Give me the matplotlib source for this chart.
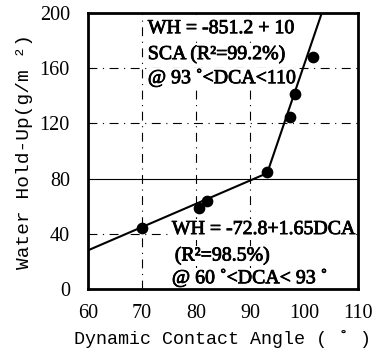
import matplotlib.pyplot as plt
import matplotlib.patheffects as pe

# measured points
dca = [70.0, 80.6, 82.0, 93.2, 97.5, 98.4, 101.6]
wh = [44, 59, 64, 85, 125, 141, 168]

# fitted lines
low_x = [60, 93.2]
low_y = [28, 84]
high_x = [93.2, 103.3]
high_y = [84, 200]

xticks = [60, 70, 80, 90, 100, 110]
yticks = [0, 40, 80, 120, 160, 200]

fig = plt.figure(figsize=(3.82, 3.64), dpi=100)
ax = fig.add_axes([0.230, 0.206, 0.707, 0.758])

ax.set_xlim(60, 110)
ax.set_ylim(0, 200)
ax.set_xticks(xticks)
ax.set_yticks(yticks)
ax.tick_params(length=0, labelsize=14.5)
ax.tick_params(axis='x', pad=11)
ax.tick_params(axis='y', pad=13)
for lab in ax.get_xticklabels() + ax.get_yticklabels():
    lab.set_fontfamily('Liberation Serif')

dash = (0, (8, 5, 1, 5))
for yy in [40, 120, 160]:
    ax.axhline(yy, color='k', lw=0.8, ls=dash, zorder=1)
ax.axhline(80, color='k', lw=0.8, zorder=1)
for xx in [70, 80, 90]:
    ax.axvline(xx, color='k', lw=0.8, ls=dash, zorder=1)

ax.plot(low_x, low_y, color='k', lw=1.5, zorder=3)
ax.plot(high_x, high_y, color='k', lw=1.5, zorder=3)
ax.scatter(dca, wh, s=55, c='k', zorder=5)

for sp in ax.spines.values():
    sp.set_linewidth(2)
    sp.set_zorder(6)

box = dict(facecolor='white', edgecolor='none', pad=0.5)
thick = [pe.withStroke(linewidth=0.6, foreground='k')]
serif = dict(family='Liberation Serif', fontsize=14.3, color='k',
             transform=ax.transAxes, va='top', bbox=box, zorder=2,
             path_effects=thick)
ax.text(0.222, 0.978, 'WH = -851.2 + 10', **serif)
ax.text(0.222, 0.885, 'SCA (R²=99.2%)', **serif)
ax.text(0.222, 0.8, '@ 93 ˚<DCA<110', **serif)
ax.text(0.311, 0.25, 'WH = -72.8+1.65DCA', **serif)
ax.text(0.322, 0.155, '(R²=98.5%)', **serif)
ax.text(0.311, 0.075, '@ 60 ˚<DCA< 93 ˚', **serif)

ax.set_xlabel('Dynamic Contact Angle ( ˚ )', family='Liberation Mono', fontsize=13.2, labelpad=5)
ax.set_ylabel('Water Hold-Up(g/m ²)', family='Liberation Mono', fontsize=14, labelpad=5)

fig.savefig('out.png', dpi=100)
